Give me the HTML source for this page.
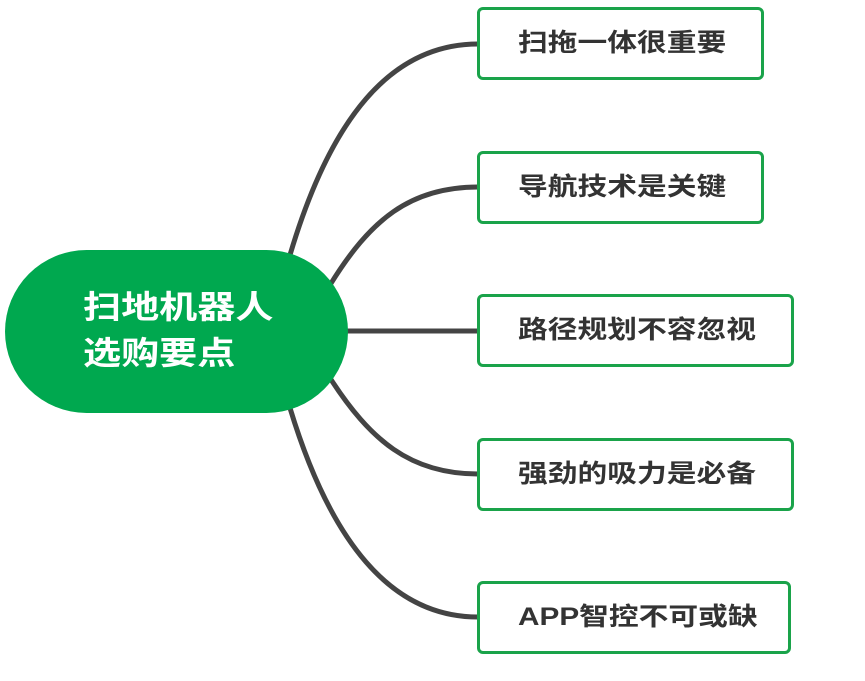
<!DOCTYPE html>
<html><head><meta charset="utf-8"><style>
body{margin:0;width:865px;height:681px;background:#fff;overflow:hidden;position:relative;font-family:"Liberation Sans","Noto Sans CJK SC",sans-serif}
.b{position:absolute;left:477px;border:3px solid #1aa34a;border-radius:6px;box-sizing:border-box;height:73px;background:#fff;color:#333;font-weight:bold;font-size:25px;line-height:67px;padding-left:38px;white-space:nowrap}
.b span,.c span{display:inline-block;transform:scaleX(1.19);transform-origin:left center}
.c{position:absolute;left:5px;top:250px;width:343px;height:163px;border-radius:82px;background:#00a84f;color:#fff;font-weight:bold;font-size:32px;line-height:46px;box-sizing:border-box;padding:34px 0 0 78px}
</style></head><body>
<svg width="865" height="681" style="position:absolute;left:0;top:0">
<g fill="none" stroke="#444" stroke-width="5">
<path d="M290 255 C330 120 390 44 478 44"/>
<path d="M330 285 C370 220 410 187 478 187"/>
<path d="M345 331 L478 331"/>
<path d="M330 378 C370 440 410 474 478 474"/>
<path d="M290 408 C330 540 390 617 478 617"/>
</g></svg>
<div class="c"><span>扫地机器人</span><br><span>选购要点</span></div>
<div class="b" style="top:7px;width:287px"><span>扫拖一体很重要</span></div>
<div class="b" style="top:151px;width:287px"><span>导航技术是关键</span></div>
<div class="b" style="top:294px;width:317px"><span>路径规划不容忽视</span></div>
<div class="b" style="top:438px;width:317px"><span>强劲的吸力是必备</span></div>
<div class="b" style="top:581px;width:314px"><span>APP智控不可或缺</span></div>
</body></html>
